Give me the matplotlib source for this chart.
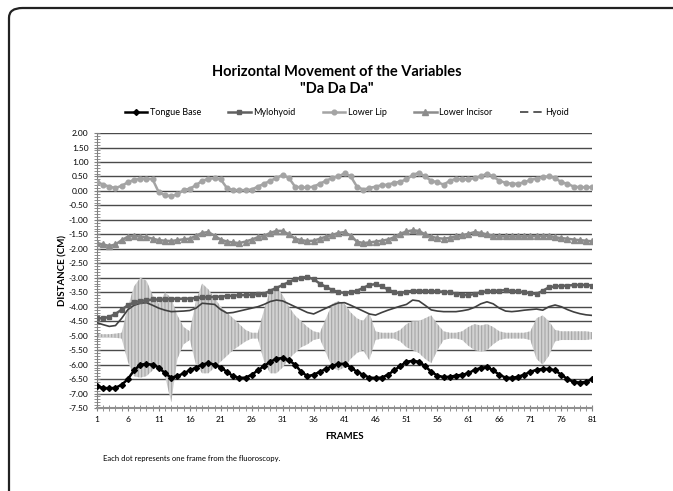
import numpy as np
import matplotlib.pyplot as plt
from matplotlib.lines import Line2D
from matplotlib.patches import FancyBboxPatch
from matplotlib.ticker import MultipleLocator, FormatStrFormatter

plt.rcParams['font.family'] = ['Lato', 'DejaVu Sans']
plt.rcParams['hatch.linewidth'] = 0.8

frames = np.arange(1, 82)

tongue_base = [-6.75, -6.8, -6.82, -6.8, -6.7, -6.5, -6.2, -6.0, -5.98, -6.0,
               -6.1, -6.3, -6.45, -6.4, -6.3, -6.2, -6.1, -6.0, -5.95, -6.0,
               -6.1, -6.25, -6.4, -6.46, -6.45, -6.35, -6.2, -6.05, -5.9, -5.8,
               -5.77, -5.85, -6.0, -6.25, -6.4, -6.35, -6.25, -6.15, -6.05, -5.98,
               -5.97, -6.1, -6.25, -6.35, -6.45, -6.46, -6.45, -6.35, -6.2, -6.05,
               -5.9, -5.87, -5.9, -6.05, -6.25, -6.38, -6.43, -6.42, -6.38, -6.35,
               -6.3, -6.18, -6.12, -6.08, -6.2, -6.35, -6.45, -6.46, -6.42, -6.35,
               -6.25, -6.18, -6.15, -6.15, -6.2, -6.35, -6.5, -6.6, -6.62, -6.6,
               -6.5]

mylohyoid = [-4.4, -4.4, -4.35, -4.25, -4.1, -3.95, -3.85, -3.8, -3.78, -3.75,
             -3.75, -3.75, -3.73, -3.73, -3.72, -3.72, -3.7, -3.68, -3.67, -3.66,
             -3.65, -3.63, -3.62, -3.6, -3.6, -3.58, -3.57, -3.55, -3.45, -3.35,
             -3.25, -3.15, -3.05, -3.0, -2.97, -3.05, -3.2, -3.32, -3.42, -3.5,
             -3.52, -3.5, -3.45, -3.35, -3.25, -3.22, -3.3, -3.4, -3.5, -3.53,
             -3.48, -3.45, -3.45, -3.46, -3.46, -3.47, -3.48, -3.5, -3.55, -3.58,
             -3.6, -3.56, -3.5, -3.47, -3.46, -3.44, -3.43, -3.45, -3.47, -3.5,
             -3.53, -3.56, -3.45, -3.33, -3.3, -3.28, -3.27, -3.25, -3.25, -3.25,
             -3.27]

lower_lip = [0.32, 0.22, 0.15, 0.1, 0.18, 0.3, 0.38, 0.42, 0.43, 0.4,
             -0.05, -0.15, -0.18, -0.12, 0.03, 0.08, 0.2, 0.35, 0.42, 0.44,
             0.4, 0.1, 0.03, 0.03, 0.03, 0.05, 0.15, 0.25, 0.35, 0.45,
             0.55, 0.45, 0.15, 0.12, 0.12, 0.15, 0.25, 0.35, 0.45, 0.5,
             0.61, 0.5, 0.15, 0.05, 0.1, 0.15, 0.2, 0.22, 0.28, 0.32,
             0.4, 0.55, 0.63, 0.5, 0.35, 0.3, 0.22, 0.35, 0.42, 0.4,
             0.4, 0.45, 0.5, 0.6, 0.5, 0.35, 0.28, 0.25, 0.25, 0.3,
             0.38, 0.43, 0.48, 0.5, 0.45, 0.3, 0.25, 0.15, 0.13, 0.13,
             0.13]

lower_incisor = [-1.8, -1.85, -1.9, -1.85, -1.7, -1.58, -1.55, -1.58, -1.6, -1.65,
                 -1.7, -1.72, -1.73, -1.7, -1.67, -1.65, -1.55, -1.45, -1.42, -1.55,
                 -1.68, -1.75, -1.78, -1.8, -1.75, -1.68, -1.6, -1.55, -1.45, -1.38,
                 -1.38, -1.5, -1.65, -1.7, -1.73, -1.72, -1.65, -1.58, -1.52, -1.45,
                 -1.42, -1.55, -1.75, -1.8, -1.78, -1.75, -1.72, -1.68, -1.6, -1.48,
                 -1.4, -1.36, -1.38, -1.5, -1.58, -1.63, -1.65, -1.62, -1.57, -1.53,
                 -1.48, -1.42, -1.45, -1.5, -1.55, -1.57, -1.57, -1.57, -1.57, -1.57,
                 -1.56, -1.56, -1.55, -1.55, -1.6, -1.63, -1.65, -1.68, -1.7, -1.72,
                 -1.74]

hyoid = [-4.55, -4.62, -4.68, -4.65, -4.4, -4.1, -3.95, -3.88, -3.86, -3.95,
         -4.05, -4.12, -4.17, -4.16, -4.15, -4.13, -4.05, -3.88, -3.9, -3.92,
         -4.1, -4.22, -4.2, -4.15, -4.1, -4.05, -4.0, -3.92, -3.82, -3.77,
         -3.8, -3.9, -4.0, -4.1, -4.2, -4.25, -4.15, -4.05, -3.95, -3.87,
         -3.86, -3.95, -4.05, -4.15, -4.25, -4.29, -4.2, -4.12, -4.05, -3.98,
         -3.92, -3.77, -3.8, -3.95, -4.11, -4.15, -4.17, -4.17, -4.17, -4.14,
         -4.1, -4.02, -3.9, -3.83, -3.9, -4.05, -4.15, -4.17, -4.15, -4.12,
         -4.1, -4.08, -4.12, -4.0, -3.94, -4.0, -4.1, -4.18, -4.24, -4.28,
         -4.3]

# audio waveform overlay, upper / lower envelope per frame
wave_top = [-4.95, -4.95, -4.95, -4.93, -4.9, -4.0, -3.3, -3.0, -3.1, -3.6,
            -3.9, -3.5, -3.7, -4.3, -4.7, -4.85, -3.8, -3.2, -3.4, -3.7,
            -4.0, -4.2, -4.4, -4.6, -4.8, -4.9, -4.9, -4.1, -3.4, -3.3,
            -3.6, -4.0, -4.3, -4.5, -4.7, -4.85, -4.9, -4.4, -3.9, -3.8,
            -3.9, -4.2, -4.4, -4.5, -4.2, -4.85, -4.9, -4.9, -4.9, -4.8,
            -4.6, -4.5, -4.5, -4.4, -4.3, -4.6, -4.85, -4.9, -4.9, -4.85,
            -4.7, -4.6, -4.65, -4.6, -4.7, -4.85, -4.9, -4.9, -4.9, -4.9,
            -4.85, -4.4, -4.3, -4.5, -4.8, -4.85, -4.85, -4.85, -4.85, -4.85,
            -4.88]
wave_bot = [-5.05, -5.05, -5.05, -5.07, -5.1, -5.9, -6.4, -6.45, -6.4, -6.2,
            -6.0, -6.4, -7.3, -5.8, -5.3, -5.15, -6.0, -6.3, -6.3, -6.1,
            -5.9, -5.7, -5.5, -5.35, -5.2, -5.1, -5.1, -5.9, -6.3, -6.3,
            -6.1, -5.8, -5.6, -5.4, -5.3, -5.15, -5.1, -5.6, -6.1, -6.2,
            -6.1, -5.8, -5.6, -5.5, -5.85, -5.15, -5.1, -5.1, -5.1, -5.2,
            -5.4, -5.5, -5.6, -5.8, -5.95, -5.5, -5.15, -5.1, -5.1, -5.15,
            -5.35, -5.5, -5.55, -5.5, -5.3, -5.15, -5.1, -5.1, -5.1, -5.1,
            -5.15, -5.8, -6.0, -5.7, -5.2, -5.15, -5.15, -5.15, -5.15, -5.15,
            -5.12]

fig = plt.figure(figsize=(6.73, 4.91), dpi=100)
ax = fig.add_axes([0.144, 0.169, 0.736, 0.56])

# outer chart border (rounded, runs off right/bottom)
fig.patches.append(FancyBboxPatch((9/673, -0.1), 1.2, 1 - 8/491 + 0.1,
                                  boxstyle='round,pad=0,rounding_size=0.02',
                                  transform=fig.transFigure, fill=False,
                                  ec='#222222', lw=1.6))

ax.fill_between(frames, wave_bot, wave_top, facecolor='#d2d2d2', edgecolor='#a6a6a6',
                hatch='|||||', lw=0, zorder=2)

ax.plot(frames, hyoid, color='#404040', lw=1.2, zorder=3)
ax.plot(frames, mylohyoid, color='#606060', lw=1.8, marker='s', ms=3.2, zorder=4)
ax.plot(frames, lower_lip, color='#a4a4a4', lw=1.8, marker='o', ms=3.4, zorder=4)
ax.plot(frames, lower_incisor, color='#8c8c8c', lw=1.8, marker='^', ms=4, zorder=4)
ax.plot(frames, tongue_base, color='black', lw=1.8, marker='D', ms=3, zorder=5)

ax.set_xlim(1, 81)
ax.set_ylim(-7.5, 2.0)
ax.set_xticks(np.arange(1, 82, 5))
ax.xaxis.set_minor_locator(MultipleLocator(1))
ax.yaxis.set_major_locator(MultipleLocator(0.5))
ax.yaxis.set_minor_locator(MultipleLocator(0.1))
ax.yaxis.set_major_formatter(FormatStrFormatter('%.2f'))
ax.tick_params(which='both', direction='inout', color='#808080', labelsize=6)
ax.tick_params(which='major', length=5)
ax.tick_params(which='minor', length=4)
ax.tick_params(axis='x', pad=3)
ax.grid(axis='y', which='major', color='#4a4a4a', lw=1.0, zorder=1)
ax.set_axisbelow(True)
for s in ['top', 'right']:
    ax.spines[s].set_visible(False)
ax.spines['left'].set_color('#808080')
ax.spines['bottom'].set_color('#909090')
ax.spines['bottom'].set_linewidth(1.5)

ax.set_xlabel('FRAMES', fontsize=7, fontweight='bold', labelpad=7)
ax.set_ylabel('DISTANCE (CM)', fontsize=7, fontweight='bold', labelpad=1)

fig.text(0.5, 0.836, 'Horizontal Movement of the Variables\n"Da Da Da"',
         ha='center', va='center', fontsize=10.5, fontweight='bold', linespacing=1.3)

handles = [
    Line2D([], [], color='black', lw=1.8, marker='D', ms=3),
    Line2D([], [], color='#606060', lw=1.8, marker='s', ms=3.2),
    Line2D([], [], color='#a4a4a4', lw=1.8, marker='o', ms=3.4),
    Line2D([], [], color='#8c8c8c', lw=1.8, marker='^', ms=4),
    Line2D([], [], color='#404040', lw=1.2, ls=(0, (5, 3))),
]
labels = ['Tongue Base', 'Mylohyoid', 'Lower Lip', 'Lower Incisor', 'Hyoid']
fig.legend(handles, labels, loc='center', bbox_to_anchor=(0.515, 0.77), ncol=5,
           frameon=False, fontsize=6.5, handlelength=2.5, handletextpad=0.3,
           columnspacing=3.0)

fig.text(103/673, 1 - 458/491, 'Each dot represents one frame from the fluoroscopy.',
         fontsize=5.5, va='center')

fig.savefig('out.png', dpi=100)
